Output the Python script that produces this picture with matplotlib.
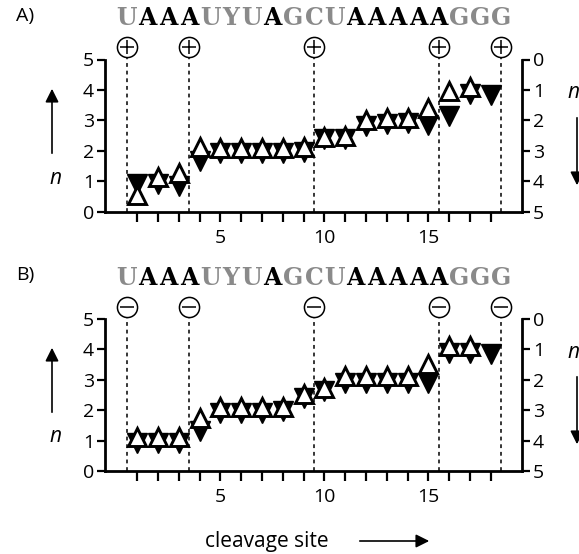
import numpy as np
import matplotlib
matplotlib.use('Agg')
import matplotlib.pyplot as plt

plt.rcParams['font.family'] = ['Open Sans', 'DejaVu Sans']

# cleavage sites 1..18
sites = list(range(1, 19))
sequence = 'UAAAUYUAGCUAAAAAGGG'
cut_sites = [0.5, 3.5, 9.5, 15.5, 18.5]
xtick_labels = {5: '5', 10: '10', 15: '15'}

# panel A: open = n (left axis, up), filled = n (right axis, down)
a_up = [0.56, 1.15, 1.26, 2.13, 2.10, 2.10, 2.10, 2.10, 2.11, 2.47, 2.50,
        3.00, 3.08, 3.07, 3.40, 3.97, 4.10, np.nan]
a_down = [4.10, 4.10, 4.15, 3.33, 3.08, 3.08, 3.08, 3.08, 3.03, 2.61, 2.60,
          2.20, 2.11, 2.09, 2.15, 1.84, 1.12, 1.15]

# panel B
b_up = [1.12, 1.12, 1.12, 1.75, 2.09, 2.09, 2.09, 2.09, 2.53, 2.72, 3.12,
        3.12, 3.12, 3.12, 3.50, 4.10, 4.10, np.nan]
b_down = [4.09, 4.09, 4.09, 3.69, 3.08, 3.08, 3.08, 3.03, 2.60, 2.37, 2.11,
          2.11, 2.11, 2.11, 2.12, 1.13, 1.13, 1.14]

W, H = 579, 554
fig = plt.figure(figsize=(W / 100, H / 100), dpi=100)


def fx(px):
    return px / W


def fy(py):
    return 1 - py / H


def panel(rect, up, down, sign, label, top_px):
    ax = fig.add_axes(rect)
    ax2 = ax.twinx()
    ax.set_zorder(ax2.get_zorder() + 1)
    ax.patch.set_visible(False)

    ax.set_xlim(-0.55, 19.5)
    ax.set_ylim(0, 5)
    ax2.set_ylim(5, 0)

    # filled triangles on the reversed right axis
    ax2.plot(sites, down, 'v', ms=14, mfc='black', mec='black', mew=1,
             ls='none', clip_on=False)
    # open triangles on the left axis
    ax.plot(sites, up, '^', ms=13.2, mfc='white', mec='black', mew=2.1,
            ls='none', clip_on=False)

    tr = ax.get_xaxis_transform()
    for c in cut_sites:
        ax2.plot([c, c], [0, 1.01], transform=ax2.get_xaxis_transform(),
                 color='black', lw=1.1, ls=(0, (2.5, 2.5)), clip_on=False,
                 zorder=0)
    ax.plot(cut_sites, [1.08] * len(cut_sites), 'o', transform=tr, ms=14.5,
            mfc='white', mec='black', mew=1.1, clip_on=False)
    ax.plot(cut_sites, [1.08] * len(cut_sites), sign, transform=tr, ms=10,
            mec='black', mew=1.1, clip_on=False)

    for i, ch in enumerate(sequence):
        col = 'black' if ch == 'A' else '#8a8a8a'
        ax.text(i + 0.5, 1.27, ch, transform=tr, ha='center', va='center',
                fontsize=17, fontweight='bold', family='DejaVu Serif',
                color=col, clip_on=False)

    for s in ['top', 'right']:
        ax.spines[s].set_visible(False)
    for s in ['top', 'left', 'bottom']:
        ax2.spines[s].set_visible(False)
    for sp in [ax.spines['left'], ax.spines['bottom'], ax2.spines['right']]:
        sp.set_linewidth(2)

    ax.set_xticks(sites)
    ax.set_xticklabels([xtick_labels.get(s, '') for s in sites])
    ax.set_yticks(range(6))
    ax2.set_yticks(range(6))
    ax.tick_params(axis='x', direction='out', length=7.2, width=1.6,
                   labelsize=14, pad=5)
    ax.tick_params(axis='y', direction='out', length=5.8, width=1.6,
                   labelsize=14, pad=2)
    ax2.tick_params(axis='y', direction='out', length=5.8, width=1.6,
                    labelsize=14, pad=2)

    fig.text(fx(25), fy(top_px - 2), label, fontsize=14, ha='center',
             va='center')

    # n arrows on both sides
    fig.text(fx(55), fy(top_px + 160), 'n', style='italic', fontsize=15,
             ha='center', va='center')
    ax.annotate('', xy=(fx(52), fy(top_px + 68)),
                xytext=(fx(52), fy(top_px + 138)), xycoords='figure fraction',
                arrowprops=dict(arrowstyle='-|>', color='black', lw=1.2,
                                mutation_scale=20))
    fig.text(fx(573), fy(top_px + 75), 'n', style='italic', fontsize=15,
             ha='center', va='center')
    ax.annotate('', xy=(fx(577), fy(top_px + 170)),
                xytext=(fx(577), fy(top_px + 97)), xycoords='figure fraction',
                arrowprops=dict(arrowstyle='-|>', color='black', lw=1.2,
                                mutation_scale=20))
    return ax


panel([105 / W, 1 - 211.7 / H, 417 / W, 152.2 / H], a_up, a_down, '+',
      'A)', 18)
axb = panel([105 / W, 1 - 471 / H, 417 / W, 152.2 / H], b_up, b_down, '_',
            'B)', 277)

fig.text(fx(267), fy(541), 'cleavage site', fontsize=15, ha='center',
         va='center')
axb.annotate('', xy=(fx(432), fy(541)), xytext=(fx(357), fy(541)),
             xycoords='figure fraction',
             arrowprops=dict(arrowstyle='-|>', color='black', lw=1.2,
                             mutation_scale=20))

fig.savefig('out.png', dpi=100)
